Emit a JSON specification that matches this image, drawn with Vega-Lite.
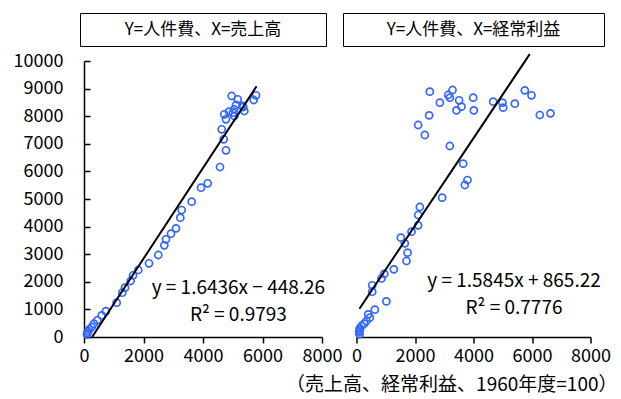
{
  "$schema": "https://vega.github.io/schema/vega-lite/v6.json",
  "padding": {"left": 13, "top": 12, "right": 5, "bottom": 5},
  "config": {
    "font": "Noto Sans CJK JP",
    "view": {"stroke": null},
    "axis": {
      "labelFont": "Noto Sans CJK JP",
      "labelFontSize": 18,
      "labelColor": "#000000",
      "domainColor": "#000000",
      "tickColor": "#000000",
      "domainWidth": 1.5,
      "tickWidth": 1.5,
      "grid": false,
      "title": null,
      "labelFlush": false,
      "labelOverlap": false,
      "format": "d"
    }
  },
  "title": {
    "text": "（売上高、経常利益、1960年度=100）",
    "orient": "bottom",
    "anchor": "end",
    "fontSize": 19,
    "fontWeight": "normal",
    "font": "Noto Sans CJK JP",
    "color": "#000000",
    "offset": 11,
    "dx": 7
  },
  "spacing": 0,
  "hconcat": [
    {
      "spacing": 15,
      "bounds": "flush",
      "center": true,
      "vconcat": [
        {
          "width": 246,
          "height": 33,
          "view": {"stroke": "#000000", "strokeWidth": 1},
          "data": {"values": [{"label": "Y=人件費、X=売上高"}]},
          "mark": {"type": "text", "fontSize": 17, "color": "#000000"},
          "encoding": {"text": {"field": "label"}}
        },
        {
          "width": 238,
          "height": 276,
          "layer": [
            {
              "data": {"values": [
                {"x": 100, "y": 100}, {"x": 115, "y": 150}, {"x": 140, "y": 217}, {"x": 180, "y": 280},
                {"x": 259, "y": 362}, {"x": 336, "y": 482}, {"x": 447, "y": 605}, {"x": 595, "y": 780},
                {"x": 735, "y": 935}, {"x": 1098, "y": 1243}, {"x": 1287, "y": 1605}, {"x": 1378, "y": 1786},
                {"x": 1570, "y": 2029}, {"x": 1647, "y": 2236}, {"x": 1826, "y": 2428}, {"x": 2185, "y": 2670},
                {"x": 2497, "y": 2971}, {"x": 2700, "y": 3322}, {"x": 2756, "y": 3540}, {"x": 2924, "y": 3743},
                {"x": 3092, "y": 3938}, {"x": 3237, "y": 4322}, {"x": 3284, "y": 4601}, {"x": 3620, "y": 4902},
                {"x": 3933, "y": 5409}, {"x": 4158, "y": 5569}, {"x": 4571, "y": 6159}, {"x": 4773, "y": 6765},
                {"x": 4696, "y": 7163}, {"x": 4629, "y": 7525}, {"x": 4773, "y": 7888}, {"x": 5052, "y": 8007},
                {"x": 4716, "y": 8069}, {"x": 5008, "y": 8127}, {"x": 4874, "y": 8163}, {"x": 5389, "y": 8188},
                {"x": 5355, "y": 8333}, {"x": 5109, "y": 8406}, {"x": 5703, "y": 8587}, {"x": 5166, "y": 8612},
                {"x": 4964, "y": 8732}, {"x": 5782, "y": 8757}, {"x": 5333, "y": 8370}, {"x": 5050, "y": 8250}
              ]},
              "mark": {"type": "point", "shape": "circle", "filled": false, "stroke": "#3366ff", "strokeWidth": 1.7, "size": 50, "opacity": 1},
              "encoding": {
                "x": {"field": "x", "type": "quantitative", "scale": {"domain": [0, 8000], "nice": false},
                      "axis": {"values": [0, 2000, 4000, 6000, 8000], "tickSize": 6, "labelPadding": 4, "format": "d", "labelOverlap": false}},
                "y": {"field": "y", "type": "quantitative", "scale": {"domain": [0, 10000], "nice": false},
                      "axis": {"values": [0, 1000, 2000, 3000, 4000, 5000, 6000, 7000, 8000, 9000, 10000], "tickCount": 11, "tickSize": -6, "labelPadding": 27, "format": "d", "labelOverlap": false, "labelSeparation": 0, "labelBound": false}}
              }
            },
            {
              "data": {"values": [{"x": 273, "y": 0}, {"x": 5800, "y": 9084.6}]},
              "mark": {"type": "line", "color": "#000000", "strokeWidth": 2},
              "encoding": {
                "x": {"field": "x", "type": "quantitative"},
                "y": {"field": "y", "type": "quantitative"}
              }
            },
            {
              "data": {"values": [
                {"x": 5190, "y": 1775, "label": "y = 1.6436x − 448.26"},
                {"x": 5190, "y": 797, "label": "R² = 0.9793"}
              ]},
              "mark": {"type": "text", "fontSize": 19, "color": "#000000", "align": "center", "baseline": "middle"},
              "encoding": {
                "x": {"field": "x", "type": "quantitative"},
                "y": {"field": "y", "type": "quantitative"},
                "text": {"field": "label"}
              }
            }
          ]
        }
      ]
    },
    {
      "spacing": 15,
      "bounds": "flush",
      "center": true,
      "vconcat": [
        {
          "width": 261,
          "height": 33,
          "view": {"stroke": "#000000", "strokeWidth": 1},
          "data": {"values": [{"label": "Y=人件費、X=経常利益"}]},
          "mark": {"type": "text", "fontSize": 17, "color": "#000000"},
          "encoding": {"text": {"field": "label"}}
        },
        {
          "width": 234,
          "height": 276,
          "layer": [
            {
              "data": {"values": [
                {"x": 100, "y": 100}, {"x": 100, "y": 181}, {"x": 100, "y": 243}, {"x": 113, "y": 315},
                {"x": 171, "y": 399}, {"x": 263, "y": 482}, {"x": 342, "y": 580}, {"x": 455, "y": 699},
                {"x": 399, "y": 822}, {"x": 627, "y": 990}, {"x": 1020, "y": 1290}, {"x": 537, "y": 1641},
                {"x": 537, "y": 1873}, {"x": 855, "y": 2120}, {"x": 950, "y": 2285}, {"x": 1276, "y": 2452},
                {"x": 1709, "y": 2754}, {"x": 1744, "y": 3055}, {"x": 1652, "y": 3393}, {"x": 1516, "y": 3599},
                {"x": 1880, "y": 3816}, {"x": 2108, "y": 4045}, {"x": 2108, "y": 4420}, {"x": 2165, "y": 4710},
                {"x": 2929, "y": 5048}, {"x": 3704, "y": 5507}, {"x": 3795, "y": 5688}, {"x": 3647, "y": 6280},
                {"x": 3191, "y": 6920}, {"x": 2336, "y": 7319}, {"x": 2108, "y": 7681}, {"x": 2484, "y": 8031},
                {"x": 2507, "y": 8889}, {"x": 3282, "y": 8949}, {"x": 3134, "y": 8768}, {"x": 3191, "y": 8671},
                {"x": 3510, "y": 8576}, {"x": 2849, "y": 8490}, {"x": 3419, "y": 8213}, {"x": 3590, "y": 8345},
                {"x": 3989, "y": 8671}, {"x": 4011, "y": 8213}, {"x": 4672, "y": 8527}, {"x": 4991, "y": 8490},
                {"x": 5014, "y": 8309}, {"x": 5413, "y": 8453}, {"x": 5755, "y": 8937}, {"x": 5983, "y": 8757},
                {"x": 6268, "y": 8043}, {"x": 6632, "y": 8104}
              ]},
              "mark": {"type": "point", "shape": "circle", "filled": false, "stroke": "#3366ff", "strokeWidth": 1.7, "size": 50, "opacity": 1},
              "encoding": {
                "x": {"field": "x", "type": "quantitative", "scale": {"domain": [0, 8000], "nice": false},
                      "axis": {"values": [0, 2000, 4000, 6000, 8000], "tickSize": 6, "labelPadding": 4, "format": "d", "labelOverlap": false}},
                "y": {"field": "y", "type": "quantitative", "scale": {"domain": [0, 10000], "nice": false}, "axis": null}
              }
            },
            {
              "data": {"values": [{"x": 100, "y": 1023.7}, {"x": 5923, "y": 10250}]},
              "mark": {"type": "line", "color": "#000000", "strokeWidth": 2, "clip": false},
              "encoding": {
                "x": {"field": "x", "type": "quantitative"},
                "y": {"field": "y", "type": "quantitative"}
              }
            },
            {
              "data": {"values": [
                {"x": 5385, "y": 2029, "label": "y = 1.5845x + 865.22"},
                {"x": 5385, "y": 1050, "label": "R² = 0.7776"}
              ]},
              "mark": {"type": "text", "fontSize": 19, "color": "#000000", "align": "center", "baseline": "middle"},
              "encoding": {
                "x": {"field": "x", "type": "quantitative"},
                "y": {"field": "y", "type": "quantitative"},
                "text": {"field": "label"}
              }
            }
          ]
        }
      ]
    }
  ]
}
